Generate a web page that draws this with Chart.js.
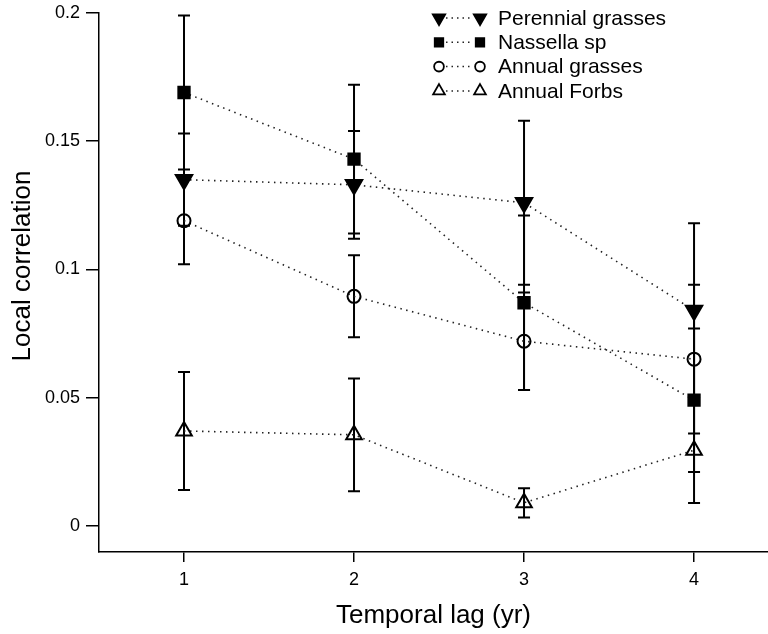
<!DOCTYPE html>
<html>
<head>
<meta charset="utf-8">
<script src="https://cdn.jsdelivr.net/npm/chart.js@4/dist/chart.umd.min.js"></script>
<style>
  html, body { margin: 0; padding: 0; background: #fff; }
  #wrap { width: 768px; height: 634px; }
</style>
</head>
<body>
<div id="wrap"><canvas id="myChart" width="768" height="634"></canvas></div>
<script>
// values
const lags = [1, 2, 3, 4];
const xTicks = [1, 2, 3, 4];
const yTicks = [0, 0.05, 0.1, 0.15, 0.2];
const yTickLabels = ['0', '0.05', '0.1', '0.15', '0.2'];

const perennial = [0.135, 0.133, 0.126, 0.084];
const perennialErr = [0.018, 0.021, 0.032, 0.034];
const nassella = [0.169, 0.143, 0.087, 0.049];
const nassellaErr = [0.030, 0.029, 0.034, 0.028];
const annualGrasses = [0.119, 0.0895, 0.072, 0.065];
const annualGrassesErr = [0.017, 0.016, 0.019, 0.029];
const annualForbs = [0.037, 0.0355, 0.009, 0.0295];
const annualForbsErr = [0.023, 0.022, 0.0057, 0.0206];

const seriesNames = ['Perennial grasses', 'Nassella sp', 'Annual grasses', 'Annual Forbs'];
const yTitle = 'Local correlation';

Chart.defaults.font.family = '"Liberation Sans", Arial, sans-serif';
Chart.defaults.color = '#000';

const pts = arr => arr.map((v, i) => ({ x: lags[i], y: v }));

function makeSet(label, vals, errs, style, rot, radius, filled) {
    return {
        label: label,
        data: pts(vals),
        errs: errs,
        borderColor: '#222',
        borderWidth: 1.6,
        borderDash: [1.5, 4.5],
        pointStyle: style,
        rotation: rot,
        pointRadius: radius,
        pointBorderColor: '#000',
        pointBorderWidth: 2,
        pointBackgroundColor: filled ? '#000' : 'rgba(0,0,0,0)',
        fill: false,
        tension: 0
    };
}

// vertical error bars with caps, drawn under the markers
const errorBars = {
    id: 'errorBars',
    beforeDatasetsDraw(chart) {
        const c = chart.ctx, xs = chart.scales.x, ys = chart.scales.y;
        c.save();
        c.strokeStyle = '#000';
        c.lineWidth = 2;
        chart.data.datasets.forEach(ds => {
            ds.data.forEach((p, i) => {
                const x = xs.getPixelForValue(p.x);
                const lo = ys.getPixelForValue(p.y - ds.errs[i]);
                const hi = ys.getPixelForValue(p.y + ds.errs[i]);
                c.beginPath();
                c.moveTo(x, lo); c.lineTo(x, hi);
                c.moveTo(x - 6, lo); c.lineTo(x + 6, lo);
                c.moveTo(x - 6, hi); c.lineTo(x + 6, hi);
                c.stroke();
            });
        });
        c.restore();
    }
};

// legend (marker ... marker  label) and the y title, which sits a bit above centre
const dotLegend = {
    id: 'dotLegend',
    afterDraw(chart) {
        const c = chart.ctx;
        const x1 = 439, x2 = 480, xt = 498, y0 = 18, dy = 24.3;
        c.save();
        chart.data.datasets.forEach((ds, i) => {
            const y = y0 + i * dy;
            c.strokeStyle = '#222';
            c.lineWidth = 1.5;
            c.setLineDash([1.5, 4]);
            c.beginPath(); c.moveTo(x1 + 7, y); c.lineTo(x2 - 7, y); c.stroke();
            c.setLineDash([]);
            const opts = {
                pointStyle: ds.pointStyle, rotation: ds.rotation,
                radius: ds.pointRadius * 0.75, borderWidth: 1.8
            };
            c.fillStyle = ds.pointBackgroundColor;
            c.strokeStyle = '#000';
            c.lineWidth = 1.8;
            Chart.helpers.drawPoint(c, opts, x1, y);
            Chart.helpers.drawPoint(c, opts, x2, y);
            c.fillStyle = '#000';
            c.font = '21px "Liberation Sans", Arial, sans-serif';
            c.textBaseline = 'middle';
            c.textAlign = 'left';
            c.fillText(ds.label, xt, y + 1);
        });
        c.translate(23, 266);
        c.rotate(-Math.PI / 2);
        c.font = '26px "Liberation Sans", Arial, sans-serif';
        c.textAlign = 'center';
        c.textBaseline = 'middle';
        c.fillText(yTitle, 0, 0);
        c.restore();
    }
};

const ctx = document.getElementById('myChart');

let chart = new Chart(ctx, {
    type: 'line',
    data: {
        datasets: [
            makeSet(seriesNames[0], perennial, perennialErr, 'triangle', 180, 9.5, true),
            makeSet(seriesNames[1], nassella, nassellaErr, 'rect', 0, 8, true),
            makeSet(seriesNames[2], annualGrasses, annualGrassesErr, 'circle', 0, 6.5, false),
            makeSet(seriesNames[3], annualForbs, annualForbsErr, 'triangle', 0, 9, false)
        ]
    },
    options: {
        responsive: false,
        animation: false,
        devicePixelRatio: 1,
        layout: { autoPadding: false, padding: { top: 13, right: 0, left: 0, bottom: 0 } },
        plugins: {
            legend: { display: false },
            tooltip: { enabled: false }
        },
        scales: {
            x: {
                type: 'linear',
                min: 0.5,
                max: 4.435,
                afterBuildTicks: s => { s.ticks = xTicks.map(v => ({ value: v })); },
                afterFit: s => { s.height = 82; s.paddingLeft = 0; s.paddingRight = 0; },
                ticks: { font: { size: 18 }, padding: 7, callback: v => String(v) },
                grid: { drawOnChartArea: false, drawTicks: true, tickLength: 10, color: '#000', lineWidth: 1.5 },
                border: { display: true, color: '#000', width: 1.5 },
                title: { display: true, text: 'Temporal lag (yr)', font: { size: 26 }, padding: { top: 0, bottom: 3 } }
            },
            y: {
                type: 'linear',
                min: -0.0102,
                max: 0.2,
                afterBuildTicks: s => { s.ticks = yTicks.map(v => ({ value: v })); },
                afterFit: s => { s.width = 99; s.paddingTop = 0; s.paddingBottom = 0; },
                ticks: {
                    font: { size: 18 }, padding: 6,
                    callback: v => yTickLabels[yTicks.indexOf(v)]
                },
                grid: { drawOnChartArea: false, drawTicks: true, tickLength: 13, color: '#000', lineWidth: 1.5 },
                border: { display: true, color: '#000', width: 1.5 },
                title: { display: false }
            }
        }
    },
    plugins: [errorBars, dotLegend]
});
</script>
</body>
</html>
